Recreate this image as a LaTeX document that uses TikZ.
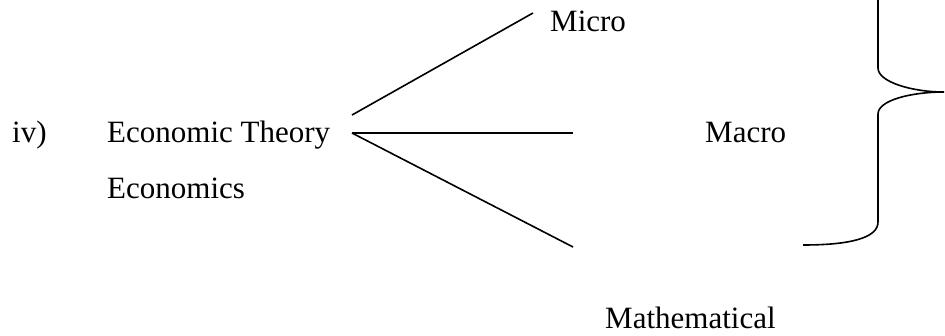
\documentclass[tikz,border=0pt]{standalone}
\usepackage{fontspec}
\setmainfont{Liberation Serif}
\begin{document}
\begin{tikzpicture}[x=1pt,y=-1pt,
  lbl/.style={anchor=base west,inner sep=0pt,font=\fontsize{31}{37}\selectfont},
  conn/.style={line width=1.6pt},
  brace/.style={line width=1.6pt}]
\useasboundingbox (0,0) rectangle (945,335);
\node[lbl] (iv) at (12,142) {iv)};
\node[lbl] (et) at (107,142) {Economic Theory};
\node[lbl] (ec) at (107,198) {Economics};
\node[lbl] (mi) at (550,31) {Micro};
\node[lbl] (ma) at (705,142) {Macro};
\node[lbl] (mt) at (605,328) {Mathematical};
\coordinate (o1) at (352,115);
\coordinate (o) at (352,133);
\coordinate (e1) at (533,13);
\coordinate (e2) at (573,133);
\coordinate (e3) at (573,247);
\draw[conn] (o1) -- (e1);
\draw[conn] (o) -- (e2);
\draw[conn] (o) -- (e3);
\coordinate (b0) at (878,-2);
\coordinate (b1) at (878,68);
\coordinate (bt) at (944,92);
\coordinate (b2) at (878,114);
\coordinate (b3) at (878,222);
\coordinate (b4) at (803,245);
\draw[brace] (b0) -- (b1) .. controls (878,82) and (912,92) .. (bt)
  .. controls (912,92) and (878,100) .. (b2) -- (b3)
  .. controls (878,238) and (850,245) .. (b4);
\end{tikzpicture}
\end{document}
